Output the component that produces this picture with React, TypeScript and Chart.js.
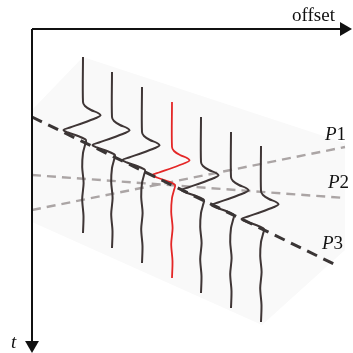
import React, { useEffect, useRef } from "react";
import { Chart, registerables } from "chart.js";

Chart.register(...registerables);

// Seismic gather: trace offsets and first-sample times (arbitrary units)
const traceOffsets = [5.1, 8.0, 11.0, 14.0, 16.9, 19.9, 22.9];
const traceStarts = [2.8, 4.3, 5.8, 7.3, 8.8, 10.3, 11.7];
const highlightedTrace = 3;

// Wavelet shape: time after trace start, and amplitude (offset units)
const waveTime = [0, 4.5, 4.9, 5.3, 5.6, 5.85, 6.1, 6.6, 7.05, 7.3, 7.55, 7.9, 8.3, 8.8, 9.6, 11.0, 12.6, 14.2, 15.9, 17.6];
const waveAmp = [0, 0, 0.2, 0.8, 1.5, 1.75, 1.3, 0.0, -1.3, -1.95, -1.5, -0.5, 0.3, 0.2, 0.0, -0.08, 0.06, -0.08, 0.05, 0];

// Event lines (offset -> time)
const lineOffsets = [0, 31.3];
const p1Times = [18.1, 11.8];
const p2Times = [14.6, 16.9];
const p3Offsets = [0, 30.2];
const p3Times = [8.8, 23.5];

// Light shaded gather panel
const panelOffsets = [0, 5.1, 31.3, 31.3, 23.0, 0, 0];
const panelTimes = [8.1, 2.8, 11.4, 22.1, 29.6, 19.3, 8.1];

// Axis extents
const axisOffsetEnd = 31.2;
const axisTimeEnd = 31.3;

const eventLabels = ["P1", "P2", "P3"];

export default function App() {
  const canvasRef = useRef<HTMLCanvasElement | null>(null);

  useEffect(() => {
    const canvas = canvasRef.current;
    if (!canvas) return;

    const traceColor = "#3f3636";
    const redColor = "#e42727";

    const datasets: any[] = [];

    datasets.push({
      data: panelOffsets.map((x, i) => ({ x, y: panelTimes[i] })),
      showLine: true,
      borderWidth: 0,
      borderColor: "rgba(0,0,0,0)",
      backgroundColor: "#f9f9f9",
      fill: "shape",
      pointRadius: 0,
      order: 20,
    });

    datasets.push({
      data: lineOffsets.map((x, i) => ({ x, y: p1Times[i] })),
      showLine: true,
      borderColor: "#aba5a5",
      borderWidth: 2.4,
      borderDash: [9, 6],
      pointRadius: 0,
      order: 10,
    });
    datasets.push({
      data: lineOffsets.map((x, i) => ({ x, y: p2Times[i] })),
      showLine: true,
      borderColor: "#aba5a5",
      borderWidth: 2.4,
      borderDash: [9, 6],
      pointRadius: 0,
      order: 10,
    });

    traceOffsets.forEach((off, k) => {
      datasets.push({
        data: waveTime.map((t, i) => ({ x: off + waveAmp[i], y: traceStarts[k] + t })),
        showLine: true,
        borderColor: k === highlightedTrace ? redColor : traceColor,
        borderWidth: k === highlightedTrace ? 1.8 : 2,
        tension: 0.3,
        pointRadius: 0,
        order: 5,
      });
    });

    datasets.push({
      data: p3Offsets.map((x, i) => ({ x, y: p3Times[i] })),
      showLine: true,
      borderColor: "#3a3535",
      borderWidth: 3,
      borderDash: [11, 7],
      pointRadius: 0,
      order: 2,
    });

    // Axes with arrows
    datasets.push({
      data: [{ x: 0, y: 0 }, { x: axisOffsetEnd, y: 0 }],
      showLine: true,
      borderColor: "#111",
      borderWidth: 2,
      pointRadius: 0,
      order: 1,
    });
    datasets.push({
      data: [{ x: 0, y: 0 }, { x: 0, y: axisTimeEnd }],
      showLine: true,
      borderColor: "#111",
      borderWidth: 2,
      pointRadius: 0,
      order: 1,
    });
    datasets.push({
      data: [{ x: axisOffsetEnd, y: 0 }],
      showLine: false,
      pointStyle: "triangle",
      pointRadius: 8,
      rotation: 90,
      backgroundColor: "#111",
      borderColor: "#111",
      borderWidth: 0,
      order: 0,
    });
    datasets.push({
      data: [{ x: 0, y: axisTimeEnd + 0.3 }],
      showLine: false,
      pointStyle: "triangle",
      pointRadius: 8,
      rotation: 180,
      backgroundColor: "#111",
      borderColor: "#111",
      borderWidth: 0,
      order: 0,
    });

    const labelPlugin = {
      id: "labels",
      afterDatasetsDraw(chart: any) {
        const { ctx, scales } = chart;
        const xs = scales.x;
        const ys = scales.y;
        const px = (v: number) => xs.getPixelForValue(v);
        const py = (v: number) => ys.getPixelForValue(v);
        ctx.save();
        ctx.fillStyle = "#111";
        ctx.textBaseline = "alphabetic";
        ctx.textAlign = "left";
        ctx.font = '19px "Liberation Serif"';
        ctx.fillText("offset", px(26.0), py(-0.8));
        ctx.font = 'italic 19px "Liberation Serif"';
        ctx.fillText("t", px(-2.1), py(31.9));

        const labelX = [29.3, 29.6, 29.0];
        const labelY = [11.1, 15.9, 22.0];
        eventLabels.forEach((lab, i) => {
          const x0 = px(labelX[i]);
          const y0 = py(labelY[i]);
          ctx.font = 'italic 19px "Liberation Serif"';
          ctx.fillText(lab[0], x0, y0);
          const w = ctx.measureText(lab[0]).width;
          ctx.font = '19px "Liberation Serif"';
          ctx.fillText(lab.slice(1), x0 + w, y0);
        });
        ctx.restore();
      },
    };

    const chart = new Chart(canvas, {
      type: "scatter",
      data: { datasets },
      options: {
        animation: false,
        responsive: false,
        maintainAspectRatio: false,
        layout: { padding: 0, autoPadding: false } as any,
        plugins: { legend: { display: false }, tooltip: { enabled: false } },
        events: [],
        datasets: { scatter: { clip: false } } as any,
        scales: {
          x: { type: "linear", min: -3.2, max: 32.1, display: false },
          y: { type: "linear", min: -2.9, max: 32.4, reverse: true, display: false },
        },
      },
      plugins: [labelPlugin],
    });

    return () => chart.destroy();
  }, []);

  return (
    <div style={{ position: "absolute", left: 0, top: 0, width: 353, height: 353, background: "#fff" }}>
      <canvas ref={canvasRef} width={353} height={353} style={{ display: "block" }} />
    </div>
  );
}
